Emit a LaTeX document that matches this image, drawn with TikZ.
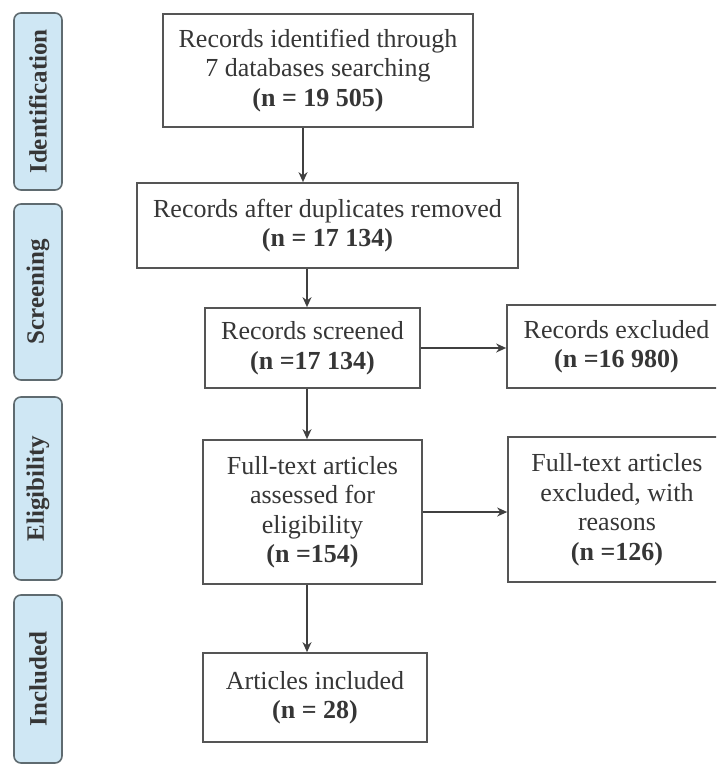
\documentclass[tikz,border=0pt]{standalone}
\usepackage{fontspec}
\setmainfont{Liberation Serif}
\usetikzlibrary{arrows.meta}
\definecolor{txt}{HTML}{363636}
\definecolor{edge}{HTML}{555555}
\definecolor{arrc}{HTML}{404040}
\definecolor{tabfill}{HTML}{CFE7F4}
\definecolor{tabedge}{HTML}{5F6B70}
\begin{document}
\begin{tikzpicture}[x=1pt,y=-1pt,
 box/.style={draw=edge, line width=1.7pt, fill=white, text=txt, align=center, inner sep=0pt, font=\fontsize{26}{29.5}\selectfont},
 tab/.style={draw=tabedge, line width=1.6pt, fill=tabfill, rounded corners=7pt, text=txt, inner sep=0pt, minimum height=48pt, font=\fontsize{25}{25}\selectfont\bfseries, rotate=90},
 arr/.style={draw=arrc, line width=1.6pt, -{Stealth[length=10pt,width=9pt]}}]
\useasboundingbox (0,0) rectangle (716,765);
\clip (0,0) rectangle (716,765);
\fill[white] (0,0) rectangle (716,765);
% phase tabs
\node[tab, minimum width=177pt] (tid) at (38,101.5) {Identification};
\node[tab, minimum width=176pt] (tsc) at (38,292) {Screening};
\node[tab, minimum width=183pt] (tel) at (38,488.5) {Eligibility};
\node[tab, minimum width=168pt] (tin) at (38,679) {Included};
% boxes
\node[box, minimum width=310pt, minimum height=113pt] (b1) at (318,70.5) {Records identified through\\7 databases searching\\\textbf{(n = 19 505)}};
\node[box, minimum width=381pt, minimum height=85pt] (b2) at (327.5,225.5) {Records after duplicates removed\\\textbf{(n = 17 134)}};
\node[box, minimum width=215pt, minimum height=80pt] (b3) at (312.5,348) {Records screened\\\textbf{(n =17 134)}};
\node[box, minimum width=219pt, minimum height=83pt] (b4) at (616.5,346.5) {Records excluded\\\textbf{(n =16 980)}};
\node[box, minimum width=219pt, minimum height=144pt] (b5) at (312.5,512) {Full-text articles\\assessed for\\eligibility\\\textbf{(n =154)}};
\node[box, minimum width=218pt, minimum height=145pt] (b6) at (617,509.5) {Full-text articles\\excluded, with\\reasons\\\textbf{(n =126)}};
\node[box, minimum width=224pt, minimum height=89pt] (b7) at (315,697.5) {Articles included\\\textbf{(n = 28)}};
% connectors
\draw[arr] ([xshift=-15pt]b1.south) -- ([xshift=-15pt]b1.south |- b2.north);
\draw[arr] ([xshift=-20.5pt]b2.south) -- ([xshift=-20.5pt]b2.south |- b3.north);
\draw[arr] ([xshift=-5.5pt]b3.south) -- ([xshift=-5.5pt]b3.south |- b5.north);
\draw[arr] ([xshift=-5.5pt]b5.south) -- ([xshift=-5.5pt]b5.south |- b7.north);
\draw[arr] (b3.east) -- (b3.east -| b4.west);
\draw[arr] (b5.east) -- (b5.east -| b6.west);
\end{tikzpicture}
\end{document}
